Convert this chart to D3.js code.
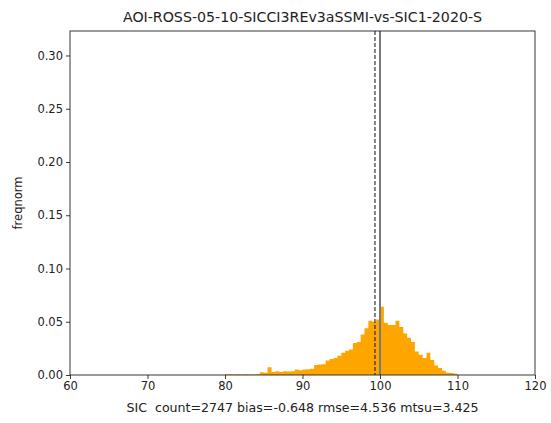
<!DOCTYPE html>
<html>
<head>
<meta charset="utf-8">
<script src="https://cdn.jsdelivr.net/npm/d3@7"></script>
<style>
  body { margin: 0; background: #fff; }
  svg { display: block; }
  text { font-family: "DejaVu Sans", sans-serif; fill: #222; }
</style>
</head>
<body>
<svg id="chart" width="551" height="423"></svg>
<script>
// ---- data ----
const titleText = "AOI-ROSS-05-10-SICCI3REv3aSSMI-vs-SIC1-2020-S";
const xLabelText = "SIC  count=2747 bias=-0.648 rmse=4.536 mtsu=3.425";
const yLabelText = "freqnorm";
const binWidth = 0.5;
const binStarts = [
  80, 80.5, 81, 81.5, 82, 82.5, 83, 83.5, 84, 84.5,
  85, 85.5, 86, 86.5, 87, 87.5, 88, 88.5, 89, 89.5,
  90, 90.5, 91, 91.5, 92, 92.5, 93, 93.5, 94, 94.5,
  95, 95.5, 96, 96.5, 97, 97.5, 98, 98.5, 99, 99.5,
  100, 100.5, 101, 101.5, 102, 102.5, 103, 103.5, 104, 104.5,
  105, 105.5, 106, 106.5, 107, 107.5, 108, 108.5, 109, 109.5
];
const freqValues = [
  0.0007, 0.0007, 0.0004, 0.0007, 0.0004, 0.0007, 0.0004, 0.0004, 0.0007, 0.0025,
  0.0022, 0.0073, 0.0029, 0.0036, 0.0029, 0.0036, 0.0033, 0.0036, 0.0051, 0.0044,
  0.0051, 0.0055, 0.0058, 0.0095, 0.0098, 0.0102, 0.0135, 0.0150, 0.0160, 0.0180,
  0.0210, 0.0228, 0.0240, 0.0300, 0.0310, 0.0380, 0.0440, 0.0510, 0.0500, 0.0520,
  0.0640, 0.0490, 0.0470, 0.0470, 0.0510, 0.0450, 0.0390, 0.0350, 0.0310, 0.0220,
  0.0190, 0.0160, 0.0210, 0.0140, 0.0090, 0.0066, 0.0040, 0.0022, 0.0018, 0.0012
];
const xTicks = [60, 70, 80, 90, 100, 110, 120];
const yTicks = [0.00, 0.05, 0.10, 0.15, 0.20, 0.25, 0.30];
const xDomain = [60, 120];
const yDomain = [0, 0.323];
const biasLine = 99.352;   // 100 + bias
const refLine = 100;

// ---- layout ----
const svg = d3.select("#chart");
const L = 70, R = 535, T = 31, B = 375;
const x = d3.scaleLinear().domain(xDomain).range([L, R]);
const y = d3.scaleLinear().domain(yDomain).range([B, T]);

// stepfilled histogram as one path
const bins = binStarts.map((s, i) => ({ s, v: freqValues[i] }));
const pts = [];
pts.push([bins[0].s, 0]);
bins.forEach(d => { pts.push([d.s, d.v]); pts.push([d.s + binWidth, d.v]); });
pts.push([bins[bins.length - 1].s + binWidth, 0]);
const line = d3.line().x(d => x(d[0])).y(d => y(d[1]));
svg.append("path")
  .attr("d", line(pts) + "Z")
  .attr("fill", "#FFA500")
  .attr("stroke", "none");

// vertical lines
svg.append("line")
  .attr("x1", x(biasLine)).attr("x2", x(biasLine))
  .attr("y1", T).attr("y2", B)
  .attr("stroke", "#222").attr("stroke-width", 1.1)
  .attr("stroke-dasharray", "4,2");
svg.append("line")
  .attr("x1", x(refLine)).attr("x2", x(refLine))
  .attr("y1", T).attr("y2", B)
  .attr("stroke", "#7a7a7a").attr("stroke-width", 2);

// axes
const xAxis = d3.axisBottom(x).tickValues(xTicks).tickFormat(d3.format("d")).tickSize(4).tickPadding(3);
const yAxis = d3.axisLeft(y).tickValues(yTicks).tickFormat(d3.format(".2f")).tickSize(4).tickPadding(3);

const gx = svg.append("g").attr("transform", `translate(0,${B})`).call(xAxis);
const gy = svg.append("g").attr("transform", `translate(${L},0)`).call(yAxis);
[gx, gy].forEach(g => {
  g.select(".domain").remove();
  g.selectAll(".tick line").attr("stroke", "#222").attr("stroke-width", 0.9);
  g.selectAll(".tick text").style("font-size", "11.5px").style("font-family", "DejaVu Sans, sans-serif").attr("fill", "#222");
});

// frame
svg.append("rect")
  .attr("x", L).attr("y", T).attr("width", R - L).attr("height", B - T)
  .attr("fill", "none").attr("stroke", "#222").attr("stroke-width", 0.9);

// texts
svg.append("text")
  .attr("x", (L + R) / 2).attr("y", 22)
  .attr("text-anchor", "middle")
  .style("font-size", "14.2px")
  .text(titleText);

svg.append("text")
  .attr("x", (L + R) / 2).attr("y", 412)
  .attr("text-anchor", "middle")
  .style("font-size", "12.6px")
  .style("white-space", "pre")
  .text(xLabelText);

svg.append("text")
  .attr("transform", `translate(22,${(T + B) / 2}) rotate(-90)`)
  .attr("text-anchor", "middle")
  .style("font-size", "11.5px")
  .text(yLabelText);
</script>
</body>
</html>
